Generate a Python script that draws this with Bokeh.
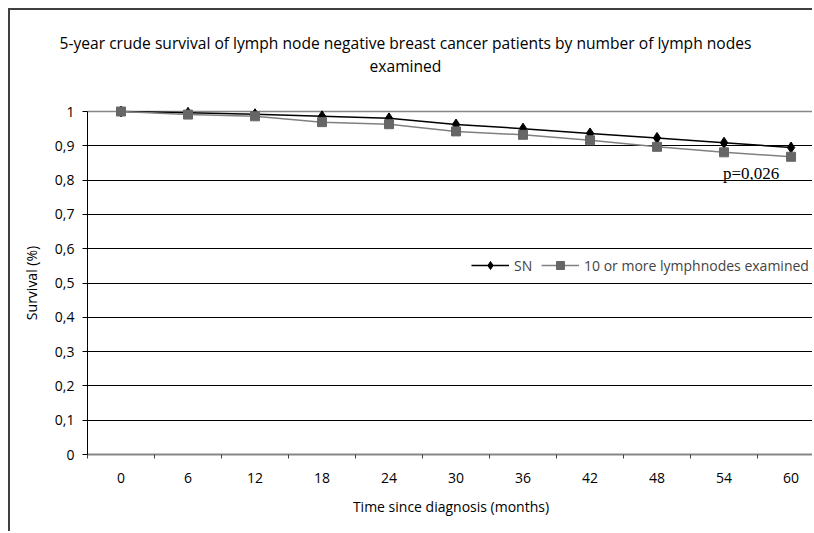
from bokeh.plotting import figure
from bokeh.models import (Range1d, FixedTicker, Legend, LegendItem, Label, Grid, LinearAxis)
from bokeh.embed import file_html
from bokeh.resources import INLINE

# ---- data ----
months = [0, 6, 12, 18, 24, 30, 36, 42, 48, 54, 60]
sn_survival = [1.0, 0.996, 0.992, 0.986, 0.980, 0.962, 0.950, 0.936, 0.923, 0.909, 0.895]
ln10_survival = [1.0, 0.991, 0.986, 0.969, 0.963, 0.942, 0.932, 0.916, 0.897, 0.881, 0.868]
series_names = ["SN", "10 or more lymphnodes examined"]
y_ticks = [0, 0.1, 0.2, 0.3, 0.4, 0.5, 0.6, 0.7, 0.8, 0.9, 1.0]
y_tick_labels = ["0", "0,1", "0,2", "0,3", "0,4", "0,5", "0,6", "0,7", "0,8", "0,9", "1"]
title_lines = ["5-year crude survival of lymph node negative breast cancer patients by number of lymph nodes",
               "examined"]
p_value_text = "p=0,026"
x_title = "Time since diagnosis (months)"
y_title = "Survival (%)"

FONT = "Open Sans"
FS = "14px"

# canvas 804 x 523 ; the frame is the whole canvas, axes sit at fixed locations
X0, X1 = -3, 62.1          # visible category span (half a category before month 0)
PX_PER_MONTH = 727 / (X1 - X0)
PX_PER_UNIT = 343
x_range = Range1d(X0 - 77 / PX_PER_MONTH, X1)
y_range = Range1d(-79 / PX_PER_UNIT, 444 / PX_PER_UNIT)

p = figure(width=804, height=523, output_backend="svg", toolbar_location=None,
           x_range=x_range, y_range=y_range, x_axis_location=None, y_axis_location=None,
           min_border_left=0, min_border_right=0, min_border_top=0, min_border_bottom=0)
p.styles = {"margin-left": "8px", "margin-top": "8px",
            "border-left": "2px solid #404040", "border-top": "2px solid #404040"}
p.outline_line_color = None
p.background_fill_color = "white"
p.border_fill_color = "white"
# drop the default grids
p.center = [r for r in p.center if not isinstance(r, Grid)]

# x axis
xa = LinearAxis(fixed_location=0, bounds=(X0, X1))
xa.ticker = FixedTicker(ticks=months, minor_ticks=[m - 3 for m in months])
xa.major_tick_line_color = None
xa.major_tick_out = 0
xa.major_tick_in = 0
xa.minor_tick_out = 4
xa.minor_tick_in = 0
xa.minor_tick_line_color = "#404040"
xa.axis_line_color = "#868686"
xa.axis_line_width = 2
xa.major_label_text_font = FONT
xa.major_label_text_font_size = FS
xa.major_label_text_color = "black"
xa.major_label_standoff = 14
xa.axis_label = x_title
xa.axis_label_text_font = FONT
xa.axis_label_text_font_size = FS
xa.axis_label_text_font_style = "normal"
xa.axis_label_text_color = "black"
xa.axis_label_standoff = 11
p.add_layout(xa, "below")

# y axis
ya = LinearAxis(fixed_location=X0, bounds=(0, 1))
ya.ticker = FixedTicker(ticks=y_ticks, minor_ticks=[])
ya.major_label_overrides = {t: l for t, l in zip(y_ticks, y_tick_labels)}
ya.axis_line_color = "black"
ya.major_tick_line_color = "black"
ya.major_tick_out = 5
ya.major_tick_in = 0
ya.minor_tick_line_color = None
ya.major_label_text_font = FONT
ya.major_label_text_font_size = FS
ya.major_label_text_color = "black"
ya.major_label_standoff = 8
ya.axis_label = y_title
ya.axis_label_text_font = FONT
ya.axis_label_text_font_size = FS
ya.axis_label_text_font_style = "normal"
ya.axis_label_text_color = "black"
ya.axis_label_standoff = 11
p.add_layout(ya, "left")

# grids (horizontal lines only, limited to the plot area)
grid = Grid(dimension=1, ticker=FixedTicker(ticks=y_ticks[1:-1]), cross_bounds=(X0, X1),
            grid_line_color="black", grid_line_width=1)
top_grid = Grid(dimension=1, ticker=FixedTicker(ticks=y_ticks[-1:]), cross_bounds=(X0, X1),
                grid_line_color="#868686", grid_line_width=1.5)
p.add_layout(grid)
p.add_layout(top_grid)

# series
l1 = p.line(months, sn_survival, line_color="black", line_width=1.5)
s1 = p.scatter(months, sn_survival, marker="diamond", size=11, fill_color="black", line_color="black")
l2 = p.line(months, ln10_survival, line_color="#808080", line_width=1.5)
s2 = p.scatter(months, ln10_survival, marker="square", size=9, fill_color="#666666", line_color="#666666")

legend = Legend(items=[LegendItem(label=series_names[0], renderers=[l1, s1]),
                       LegendItem(label=series_names[1], renderers=[l2, s2])],
                orientation="horizontal", location=(461, 258), padding=0, margin=0,
                spacing=7, glyph_width=38, glyph_height=20, label_standoff=5,
                label_text_font=FONT, label_text_font_size="14px",
                border_line_color=None, background_fill_color="white", background_fill_alpha=1)
p.add_layout(legend, "center")

# two-line chart title
title_x = X0 + (395 - 77) / PX_PER_MONTH
p.add_layout(Label(x=title_x, y=412 / PX_PER_UNIT, text=title_lines[0], text_align="center",
                   text_baseline="middle", text_font=FONT, text_font_size="15.6px", text_color="black"))
p.add_layout(Label(x=title_x, y=389 / PX_PER_UNIT, text=title_lines[1], text_align="center",
                   text_baseline="middle", text_font=FONT, text_font_size="15.6px", text_color="black"))

# p-value annotation
p.add_layout(Label(x=53.9, y=0.818, text=p_value_text, text_align="left", text_baseline="alphabetic",
                   text_font="Liberation Serif", text_font_size="17px", text_color="black"))

open("out.html", "w").write(file_html(p, INLINE))
